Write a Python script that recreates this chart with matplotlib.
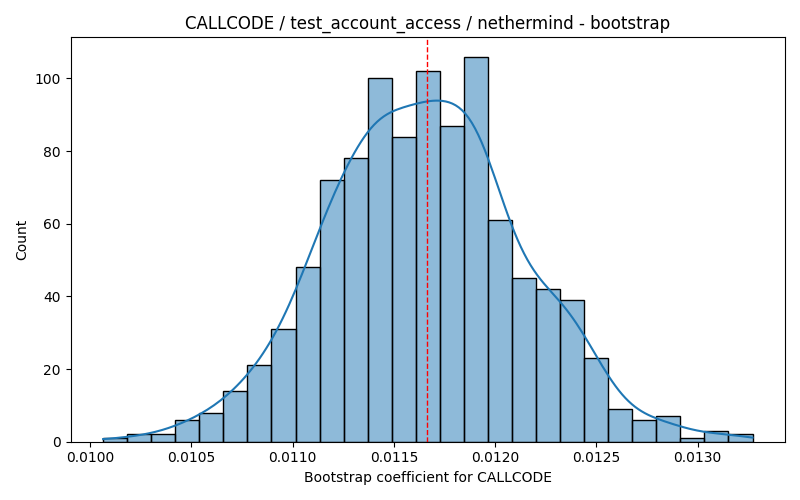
import numpy as np
import matplotlib
matplotlib.use("Agg")
import matplotlib.pyplot as plt
import seaborn as sns

# Histogram
bin_start = 0.010064
bin_end = 0.013271
counts = [1, 2, 2, 6, 8, 14, 21, 31, 48, 72, 78, 100, 84, 102, 87, 106,
          61, 45, 42, 39, 23, 9, 6, 7, 1, 3, 2]
mean_value = 0.011661

title = "CALLCODE / test_account_access / nethermind - bootstrap"
xlabel = "Bootstrap coefficient for CALLCODE"
ylabel = "Count"

edges = np.linspace(bin_start, bin_end, len(counts) + 1)

# Reconstruct samples: spread each bin's count evenly inside the bin
samples = []
for k, c in enumerate(counts):
    lo, hi = edges[k], edges[k + 1]
    w = hi - lo
    for i in range(c):
        samples.append(lo + (i + 0.5) / c * w)
samples = np.array(samples)
samples[0] = edges[0]
samples[-1] = edges[-1]

fig, ax = plt.subplots(figsize=(8, 5), dpi=100)
sns.histplot(samples, bins=edges, kde=True, ax=ax)
ax.axvline(mean_value, color="red", linestyle="--", linewidth=1)
ax.set_title(title)
ax.set_xlabel(xlabel)
ax.set_ylabel(ylabel)
fig.tight_layout()
fig.savefig("out.png", dpi=100)
